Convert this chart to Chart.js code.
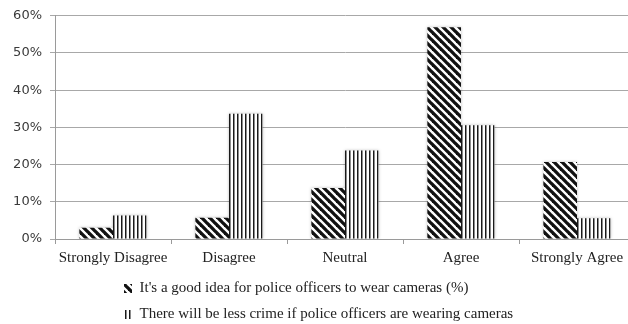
<!DOCTYPE html>
<html>
<head>
<meta charset="utf-8">
<script src="https://cdn.jsdelivr.net/npm/chart.js@4/dist/chart.umd.min.js"></script>
<style>
  html, body { margin: 0; padding: 0; background: #fff; overflow: hidden; }
  #wrap { width: 640px; height: 324px; }
</style>
</head>
<body>
<div id="wrap"><canvas id="c" width="640" height="324"></canvas></div>
<script>
// Survey responses on police body cameras (percent of respondents)
const categories = ['Strongly Disagree', 'Disagree', 'Neutral', 'Agree', 'Strongly Agree'];
const goodIdea = [3.0, 5.7, 13.7, 56.9, 20.7];
const lessCrime = [6.3, 33.7, 23.8, 30.6, 5.6];
const seriesNames = [
  "It's a good idea for police officers to wear cameras (%)",
  'There will be less crime if police officers are wearing cameras'
];
const yTicks = [0, 10, 20, 30, 40, 50, 60];

// Hatch fills
function diagonalHatch() {
  const t = document.createElement('canvas');
  t.width = 8; t.height = 8;
  const g = t.getContext('2d');
  g.fillStyle = '#fff'; g.fillRect(0, 0, 8, 8);
  g.strokeStyle = '#111'; g.lineWidth = 3.3;
  for (let k = -1; k <= 1; k++) {
    g.beginPath();
    g.moveTo(k * 8 - 2, -2);
    g.lineTo(k * 8 + 10, 10);
    g.stroke();
  }
  return g.createPattern(t, 'repeat');
}
function verticalHatch() {
  const t = document.createElement('canvas');
  t.width = 4; t.height = 4;
  const g = t.getContext('2d');
  g.fillStyle = '#fff'; g.fillRect(0, 0, 4, 4);
  g.fillStyle = '#1a1a1a'; g.fillRect(1, 0, 1.5, 4);
  return g.createPattern(t, 'repeat');
}

// Soft halo around the bars
const barHalo = {
  id: 'barHalo',
  beforeDatasetsDraw(chart) {
    const ctx = chart.ctx;
    ctx.save();
    ctx.shadowColor = 'rgba(0,0,0,0.25)';
    ctx.shadowBlur = 3;
  },
  afterDatasetsDraw(chart) { chart.ctx.restore(); }
};

// Legend block sits left-aligned under the plot
const legendPlace = {
  id: 'legendPlace',
  afterLayout(chart) {
    const lg = chart.legend;
    lg.left = 113;
    lg.top = 270;
  }
};

new Chart(document.getElementById('c'), {
  type: 'bar',
  data: {
    labels: categories,
    datasets: [
      { label: seriesNames[0], data: goodIdea, backgroundColor: diagonalHatch(), borderWidth: 0 },
      { label: seriesNames[1], data: lessCrime, backgroundColor: verticalHatch(), borderWidth: 0 }
    ]
  },
  options: {
    responsive: false,
    animation: false,
    devicePixelRatio: 1,
    layout: { padding: { top: 7, right: 5, left: 0, bottom: -10 } },
    datasets: { bar: { barPercentage: 1.0, categoryPercentage: 0.58 } },
    plugins: {
      tooltip: { enabled: false },
      legend: {
        position: 'bottom',
        align: 'start',
        labels: {
          boxWidth: 8,
          boxHeight: 9,
          padding: 11,
          color: '#222',
          font: { family: '"Liberation Serif", serif', size: 15 }
        }
      }
    },
    scales: {
      x: {
        grid: { display: true, drawOnChartArea: false, offset: true, tickLength: 5, color: '#9a9a9a' },
        border: { color: '#9a9a9a' },
        ticks: { color: '#222', padding: 5, font: { family: '"Liberation Serif", serif', size: 15 }, maxRotation: 0 }
      },
      y: {
        min: 0,
        max: 60,
        afterFit(scale) { scale.width = 55; },
        afterBuildTicks(scale) { scale.ticks = yTicks.map(v => ({ value: v })); },
        grid: { color: '#a8a8a8', tickLength: 5 },
        border: { color: '#9a9a9a' },
        ticks: {
          color: '#3a3a3a',
          padding: 8,
          font: { family: '"DejaVu Sans", sans-serif', size: 13 },
          callback: v => v + '%'
        }
      }
    }
  },
  plugins: [barHalo, legendPlace]
});
</script>
</body>
</html>
